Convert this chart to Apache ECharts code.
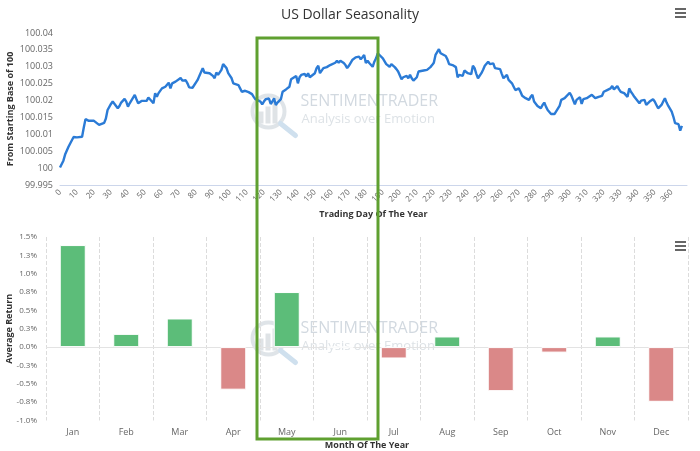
<!DOCTYPE html>
<html>
<head>
<meta charset="utf-8">
<script src="https://cdn.jsdelivr.net/npm/echarts@6/dist/echarts.min.js"></script>
<style>
html,body{margin:0;padding:0;background:#fff;}
#c{width:700px;height:451px;}
</style>
</head>
<body>
<div id="c"></div>
<script>
// ---- Data ----
var tradingDays = [0,2,3,5,6,7,8,10,11,13,14,15,17,18,20,21,23,24,26,27,28,30,31,32,34,35,36,38,39,40,41,42,44,45,46,48,49,51,52,53,55,56,57,58,60,61,62,64,65,66,68,69,71,72,74,75,76,78,79,81,82,84,85,86,88,89,90,91,92,93,94,95,96,98,99,101,102,103,105,106,107,109,110,111,113,114,115,116,118,119,120,121,123,124,125,126,127,128,130,131,132,133,135,136,137,139,140,141,142,144,145,146,147,148,150,151,152,153,155,156,157,159,160,162,163,164,165,167,168,169,170,171,172,174,176,177,178,179,180,181,182,184,185,186,187,188,190,191,192,193,194,195,197,198,199,200,201,202,204,205,206,207,208,210,211,212,214,215,216,217,218,219,220,221,223,224,225,227,228,229,231,232,233,234,235,237,238,239,240,242,243,244,245,246,248,249,250,252,253,254,255,256,257,259,260,261,263,264,265,266,267,268,270,271,272,273,274,276,277,278,279,280,281,283,284,285,286,287,289,290,291,292,294,295,297,298,300,301,302,303,304,306,307,308,309,310,311,313,314,315,317,318,319,320,322,323,324,325,326,328,329,330,332,333,334,335,336,337,338,339,341,342,343,344,345,347,348,349,350,351,352,354,355,356,357,358,359,360,361,362,363,364,365,366];
var baseValues = [100.0002,100.0022,100.0040,100.0063,100.0073,100.0078,100.0092,100.0091,100.0087,100.0093,100.0120,100.0145,100.0140,100.0137,100.0140,100.0137,100.0128,100.0133,100.0134,100.0147,100.0172,100.0190,100.0197,100.0192,100.0177,100.0184,100.0194,100.0205,100.0197,100.0182,100.0192,100.0197,100.0217,100.0204,100.0192,100.0199,100.0195,100.0199,100.0209,100.0207,100.0192,100.0222,100.0211,100.0222,100.0236,100.0231,100.0241,100.0253,100.0236,100.0251,100.0256,100.0261,100.0267,100.0259,100.0260,100.0251,100.0239,100.0238,100.0243,100.0261,100.0273,100.0296,100.0283,100.0286,100.0281,100.0286,100.0273,100.0266,100.0283,100.0276,100.0281,100.0291,100.0308,100.0296,100.0281,100.0266,100.0251,100.0253,100.0246,100.0236,100.0226,100.0229,100.0226,100.0225,100.0219,100.0211,100.0204,100.0207,100.0197,100.0189,100.0197,100.0204,100.0206,100.0190,100.0197,100.0207,100.0187,100.0194,100.0204,100.0226,100.0231,100.0233,100.0241,100.0263,100.0261,100.0273,100.0251,100.0269,100.0276,100.0279,100.0271,100.0281,100.0269,100.0271,100.0281,100.0296,100.0303,100.0281,100.0296,100.0300,100.0299,100.0305,100.0308,100.0312,100.0318,100.0312,100.0318,100.0311,100.0305,100.0296,100.0303,100.0300,100.0320,100.0328,100.0330,100.0322,100.0328,100.0335,100.0311,100.0318,100.0311,100.0300,100.0315,100.0325,100.0340,100.0335,100.0325,100.0320,100.0308,100.0312,100.0300,100.0308,100.0299,100.0293,100.0286,100.0281,100.0263,100.0269,100.0273,100.0266,100.0276,100.0266,100.0259,100.0269,100.0286,100.0283,100.0289,100.0286,100.0291,100.0293,100.0299,100.0305,100.0312,100.0335,100.0352,100.0340,100.0335,100.0332,100.0322,100.0308,100.0305,100.0310,100.0299,100.0269,100.0276,100.0273,100.0289,100.0286,100.0281,100.0278,100.0303,100.0296,100.0279,100.0266,100.0281,100.0291,100.0303,100.0315,100.0308,100.0312,100.0310,100.0296,100.0296,100.0293,100.0279,100.0266,100.0276,100.0261,100.0263,100.0251,100.0241,100.0231,100.0236,100.0226,100.0214,100.0211,100.0207,100.0202,100.0211,100.0217,100.0197,100.0192,100.0184,100.0177,100.0187,100.0194,100.0182,100.0172,100.0160,100.0162,100.0160,100.0165,100.0184,100.0202,100.0207,100.0210,100.0223,100.0214,100.0210,100.0189,100.0202,100.0210,100.0190,100.0204,100.0200,100.0207,100.0210,100.0217,100.0222,100.0207,100.0211,100.0207,100.0214,100.0226,100.0231,100.0229,100.0236,100.0243,100.0233,100.0243,100.0233,100.0226,100.0222,100.0226,100.0211,100.0236,100.0226,100.0219,100.0211,100.0207,100.0192,100.0200,100.0197,100.0202,100.0187,100.0197,100.0202,100.0204,100.0197,100.0187,100.0177,100.0187,100.0197,100.0207,100.0194,100.0184,100.0180,100.0167,100.0152,100.0133,100.0137,100.0130,100.0111,100.0125];

var months = ['Jan','Feb','Mar','Apr','May','Jun','Jul','Aug','Sep','Oct','Nov','Dec'];
var monthlyReturns = [1.39,0.18,0.39,-0.58,0.75,0,-0.155,0.145,-0.60,-0.075,0.145,-0.745];

// ---- Build chart ----
var FONT = "'Open Sans', sans-serif";
var linePoints = tradingDays.map(function(d,i){ return [d, baseValues[i]]; });
var barPoints = monthlyReturns.map(function(v){
  return { value: v, itemStyle: { color: v >= 0 ? '#5cbd79' : '#da8888' } };
});

function menuIcon(x, y){
  return {
    type: 'group', left: x, top: y, z: 50,
    children: [0,4,8].map(function(o){
      return { type:'rect', shape:{x:0,y:o,width:11,height:2}, style:{fill:'#666'} };
    })
  };
}
function watermark(y0){
  return {
    type:'group', left: 250, top: y0, z: 0, silent: true,
    children: [
      { type:'circle', shape:{cx:20,cy:18,r:16}, style:{fill:'none', stroke:'#dfe4e8', lineWidth:4} },
      { type:'rect', shape:{x:10,y:18,width:5,height:12}, style:{fill:'#dfe3e6'} },
      { type:'rect', shape:{x:17,y:13,width:5,height:17}, style:{fill:'#dfe3e6'} },
      { type:'rect', shape:{x:24,y:8,width:5,height:22}, style:{fill:'#dfe3e6'} },
      { type:'line', shape:{x1:32,y1:30,x2:47,y2:42}, style:{stroke:'#cfe0ee', lineWidth:5, lineCap:'round'} },
      { type:'text', left: 52, top: 0, style:{ text:'SENTIMENTRADER', font:'16px ' + FONT, fill:'#d2d9e0' } },
      { type:'text', left: 53, top: 19, style:{ text:'Analysis over Emotion', font:'13px ' + FONT, fill:'#dde2e6' } }
    ]
  };
}

var option = {
  animation: false,
  backgroundColor: '#fff',
  textStyle: { fontFamily: FONT },
  title: {
    text: 'US Dollar Seasonality',
    left: 'center', top: 3,
    textStyle: { fontFamily: FONT, fontSize: 14, fontWeight: 'normal', color: '#333' }
  },
  graphic: [
    watermark(93),
    watermark(320),
    menuIcon(675, 8),
    menuIcon(675, 241),
    { type:'rect', z: 100, silent: true,
      shape:{ x:257, y:38, width:121, height:401 },
      style:{ fill:'none', stroke:'#5fa030', lineWidth:3 } }
  ],
  grid: [
    { left: 60, right: 13, top: 33, height: 152, containLabel: false, outerBoundsMode: 'none' },
    { left: 46, right: 12, top: 237, height: 183.5, containLabel: false, outerBoundsMode: 'none' }
  ],
  xAxis: [
    { gridIndex: 0, type: 'value', min: 0, max: 369, interval: 10,
      name: 'Trading Day Of The Year', nameLocation: 'middle', nameGap: 25, nameMoveOverlap: false,
      nameTextStyle: { fontFamily: FONT, fontSize: 9, fontWeight: 'bold', color: '#333' },
      axisLine: { show: true, lineStyle: { color: '#ccd6eb', width: 1 } },
      axisTick: { show: false },
      splitLine: { show: false },
      axisLabel: { rotate: 45, fontSize: 8, color: '#666', margin: 6, showMaxLabel: false,
        formatter: function(v){ return v % 10 === 0 ? String(v) : ''; } } },
    { gridIndex: 1, type: 'category', data: months, boundaryGap: true,
      name: 'Month Of The Year', nameLocation: 'middle', nameGap: 20, nameMoveOverlap: false,
      nameTextStyle: { fontFamily: FONT, fontSize: 9, fontWeight: 'bold', color: '#333' },
      axisLine: { show: false, onZero: false },
      axisTick: { show: false },
      splitLine: { show: true, lineStyle: { color: '#dcdcdc', type: 'dashed', width: 1 } },
      axisLabel: { fontSize: 9, color: '#666', margin: 7 } }
  ],
  yAxis: [
    { gridIndex: 0, type: 'value', min: 99.995, max: 100.04, interval: 0.005,
      name: 'From Starting Base of 100', nameLocation: 'middle', nameGap: 45, nameMoveOverlap: false,
      nameTextStyle: { fontFamily: FONT, fontSize: 9, fontWeight: 'bold', color: '#333' },
      axisLine: { show: false }, axisTick: { show: false }, splitLine: { show: false },
      axisLabel: { fontSize: 9, color: '#666', margin: 7 } },
    { gridIndex: 1, type: 'value', min: -1, max: 1.5, interval: 0.25,
      name: 'Average Return', nameLocation: 'middle', nameGap: 32, nameMoveOverlap: false,
      nameTextStyle: { fontFamily: FONT, fontSize: 9, fontWeight: 'bold', color: '#333' },
      axisLine: { show: false }, axisTick: { show: false }, splitLine: { show: false },
      axisLabel: { fontSize: 8, color: '#666', margin: 9,
        formatter: function(v){ return v.toFixed(1) + '%'; } } }
  ],
  series: [
    { type: 'line', xAxisIndex: 0, yAxisIndex: 0, data: linePoints,
      showSymbol: false, symbol: 'none',
      lineStyle: { color: '#2b7bd6', width: 2.4 }, z: 5 },
    { type: 'bar', xAxisIndex: 1, yAxisIndex: 1, data: barPoints,
      barWidth: 26,
      itemStyle: { borderColor: '#fff', borderWidth: 1 },
      markLine: { silent: true, symbol: 'none', label: { show: false },
        lineStyle: { color: '#e3e3e3', type: 'solid', width: 1 },
        data: [ { yAxis: 0 } ] },
      z: 5 }
  ]
};

var chart = echarts.init(document.getElementById('c'), null, { renderer: 'canvas' });
chart.setOption(option);
</script>
</body>
</html>
